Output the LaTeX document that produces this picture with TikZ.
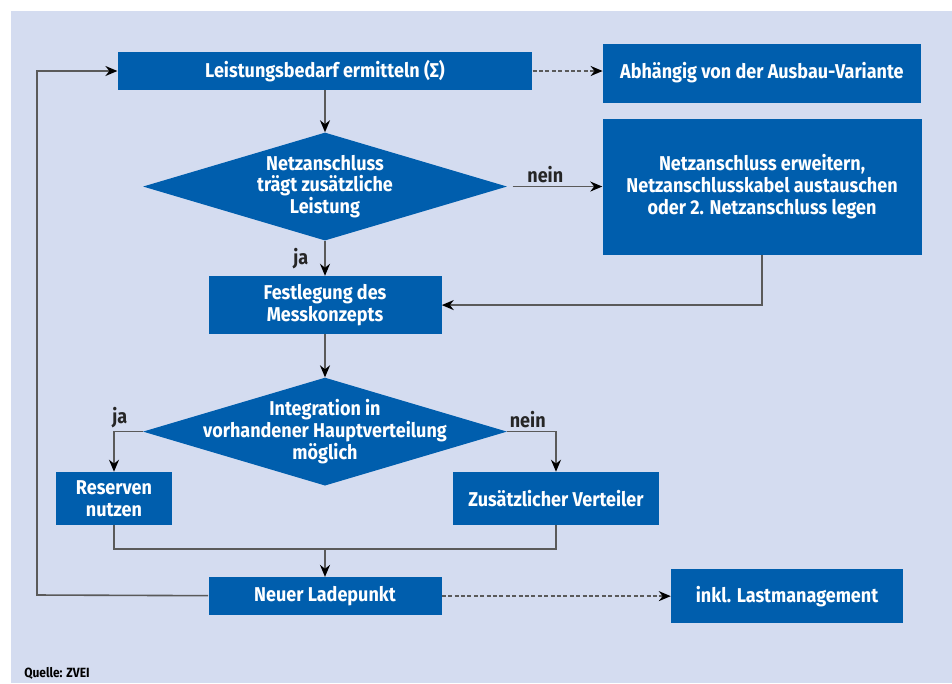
\documentclass[tikz,border=0pt]{standalone}
\usepackage{fontspec}
\setmainfont{Fira Sans}[FakeStretch=0.9]
\usetikzlibrary{positioning, arrows.meta, shapes.geometric}

\definecolor{zveiblue}{RGB}{0,94,173}
\definecolor{zveibg}{RGB}{212,220,240}
\definecolor{zveiline}{RGB}{90,90,90}

\begin{document}
\begin{tikzpicture}[
    % Pixel grid of the original figure
    x=0.75pt, y=-0.75pt,
    % Define box styles
    txt/.style={font=\fontsize{15}{16.4}\selectfont\bfseries},
    base/.style={txt, fill=zveiblue, text=white, inner sep=0pt, align=center},
    box/.style={base, rectangle},
    decision/.style={base, diamond, minimum width=273pt, minimum height=81pt},
    dtext/.style={txt, text=white, align=center, inner sep=0pt},
    lbl/.style={txt, text=black!85, inner sep=2pt},
    % Arrow style
    conn/.style={draw=zveiline, line width=1.2pt},
    dashconn/.style={conn, dash pattern=on 3pt off 1.8pt},
    >={Stealth[length=9pt, width=7.5pt, color=black]}
]

    % --- BACKGROUND ---
    \fill[white] (0,0) rectangle (952,683);
    \useasboundingbox (0,0) rectangle (952,683);
    \fill[zveibg] (11,11) rectangle (952,683);

    % --- NODES ---
    \node[box, minimum width=311pt, minimum height=28.5pt] (lb) at (325,71) {Leistungsbedarf ermitteln (Σ)};
    \node[box, minimum width=238.5pt, minimum height=44.25pt, right=52.5pt of lb, yshift=-1.5pt] (abh) {Abhängig von der Ausbau-Variante};

    % First decision
    \node[decision, below=31.5pt of lb,
          label={[dtext]center:{Netzanschluss\\trägt zusätzliche\\Leistung}}] (d1) {};
    \node[box, minimum width=239.25pt, minimum height=102pt, right=71.25pt of d1] (netz)
        {Netzanschluss erweitern,\\Netzanschlusskabel austauschen\\oder 2. Netzanschluss legen};
    \node[box, minimum width=174.75pt, minimum height=43.5pt, below=26.25pt of d1] (fest) {Festlegung des\\Messkonzepts};

    % Second decision
    \node[decision, below=32.25pt of fest,
          label={[dtext]center:{Integration in\\vorhandener Hauptverteilung\\möglich}}] (d2) {};
    \node[box, minimum width=87pt, minimum height=39.75pt] (res) at (114,498.5) {Reserven\\nutzen};
    \node[box, minimum width=154.5pt, minimum height=39.75pt] (zus) at (556,498.5) {Zusätzlicher Verteiler};

    % Final step
    \node[box, minimum width=174.75pt, minimum height=28.5pt, below=68.25pt of d2] (neu) {Neuer Ladepunkt};
    \node[box, minimum width=174pt, minimum height=40.5pt, right=171.75pt of neu] (inkl) {inkl. Lastmanagement};

    \node[anchor=west, inner sep=0pt, font=\fontsize{10}{11}\selectfont\bfseries] (src) at (24,673) {Quelle: ZVEI};

    \coordinate[above=21pt of neu.north] (join);
    \coordinate (back) at (37,595);

    % --- EDGES ---
    \draw[conn, ->] (lb) -- (d1);
    \draw[dashconn, ->] (lb.east) -- (lb.east -| abh.west);

    % Netzanschluss decision
    \draw[conn, ->, shorten <=4pt] (d1) -- node[lbl, pos=0.4, above] {nein} (netz);
    \draw[conn, ->] (d1) -- node[lbl, left=10pt] {ja} (fest);
    \draw[conn, ->] (netz) |- (fest);
    \draw[conn, ->] (fest) -- (d2);

    % Hauptverteilung decision
    \draw[conn, ->] (d2) -| node[lbl, pos=0.4, above] {ja} (res);
    \draw[conn, ->] (d2) -| node[lbl, pos=0.21, above] {nein} (zus);
    \draw[conn] (res) |- (join);
    \draw[conn] (zus) |- (join);
    \draw[conn, ->] (join) -- (neu);

    % Outgoing paths of the new charging point
    \draw[dashconn, ->] (neu) -- (inkl);
    \draw[conn, ->] (neu) -- (back) |- (lb);

\end{tikzpicture}
\end{document}
